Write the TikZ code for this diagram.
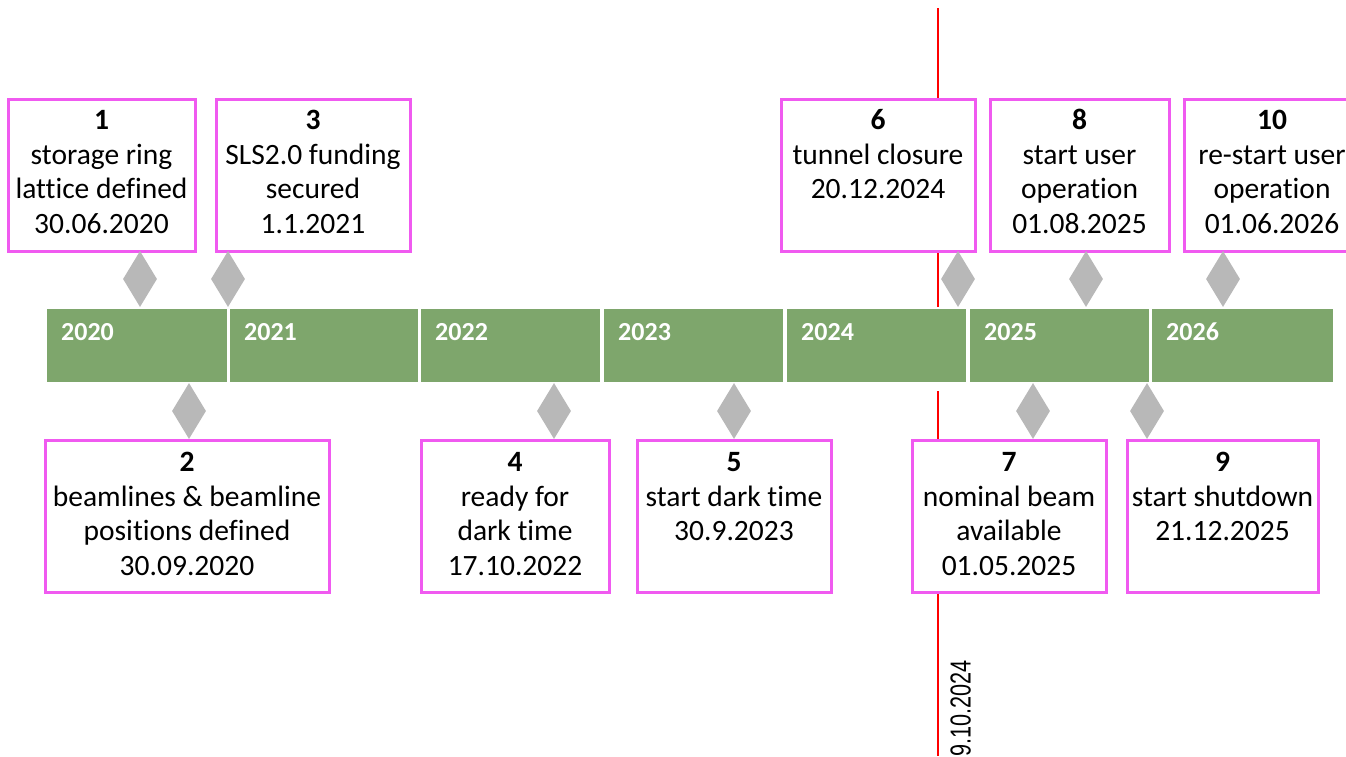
\documentclass[tikz,border=0pt]{standalone}
\usepackage{fontspec}
\setmainfont{Carlito}[Ligatures=NoCommon]
\newfontfamily\datefont{Liberation Sans}
\usetikzlibrary{shapes.geometric}

\definecolor{bargreen}{HTML}{7EA66C}
\definecolor{boxpink}{HTML}{F05AF0}
\definecolor{gemgray}{HTML}{B8B8B8}

\begin{document}
\begin{tikzpicture}[x=1pt,y=-1pt,
  yearseg/.style={fill=bargreen, draw=none, minimum height=73pt, inner sep=0pt, anchor=north west},
  yearlabel/.style={text=white, inner sep=0pt, anchor=base west,
    font={\fontsize{26}{30}\selectfont\bfseries}},
  milestone/.style={draw=boxpink, line width=3pt, fill=white, inner sep=0pt, minimum height=152pt},
  mtext/.style={inner sep=0pt, anchor=north, align=center,
    font={\fontsize{29.5}{34.5}\selectfont}},
  gem/.style={diamond, fill=gemgray, draw=none, inner sep=0pt,
    minimum width=34pt, minimum height=56pt},
  todayline/.style={draw=red, line width=2.2pt}
]
\useasboundingbox (0,0) rectangle (1346,756);

% red marker line, behind everything else
\coordinate (r1) at (938,8);
\coordinate (r2) at (938,307);
\coordinate (r3) at (938,391);
\coordinate (r4) at (938,756);
\draw[todayline] (r1) -- (r2);
\draw[todayline] (r3) -- (r4);
\node[inner sep=0pt, anchor=base east, rotate=90] (today) at (970.5,660)
  {\datefont\fontsize{28.9}{32}\selectfont\scalebox{0.75}[1]{9.10.2024}};

% year bar
\node[yearseg, minimum width=180pt] (y2020) at (47,309) {};
\node[yearseg, minimum width=188pt] (y2021) at (230,309) {};
\node[yearseg, minimum width=179pt] (y2022) at (421,309) {};
\node[yearseg, minimum width=179pt] (y2023) at (604,309) {};
\node[yearseg, minimum width=179pt] (y2024) at (787,309) {};
\node[yearseg, minimum width=179pt] (y2025) at (970,309) {};
\node[yearseg, minimum width=181pt] (y2026) at (1152,309) {};
\node[yearlabel] (l2020) at (61,340) {2020};
\node[yearlabel] (l2021) at (244,340) {2021};
\node[yearlabel] (l2022) at (435,340) {2022};
\node[yearlabel] (l2023) at (618,340) {2023};
\node[yearlabel] (l2024) at (801,340) {2024};
\node[yearlabel] (l2025) at (984,340) {2025};
\node[yearlabel] (l2026) at (1166,340) {2026};

% milestone boxes above the bar
\node[milestone, minimum width=187pt] (m1) at (101.5,175) {};
\node[milestone, minimum width=194pt] (m3) at (313,175) {};
\node[milestone, minimum width=194pt] (m6) at (878,175) {};
\node[milestone, minimum width=179pt] (m8) at (1079.5,175) {};
\node[milestone, minimum width=176pt] (m10) at (1272,175) {};

% milestone boxes below the bar
\node[milestone, minimum width=284pt] (m2) at (187,516) {};
\node[milestone, minimum width=188pt] (m4) at (515,516) {};
\node[milestone, minimum width=194pt] (m5) at (734,516) {};
\node[milestone, minimum width=194pt] (m7) at (1009,516) {};
\node[milestone, minimum width=191pt] (m9) at (1222.5,516) {};

% milestone texts
\node[mtext] (t1) at (101.5,105.5) {\strut\textbf{1}\\storage ring\\lattice defined\\30.06.2020};
\node[mtext] (t3) at (313,105.5) {\strut\textbf{3}\\SLS2.0 funding\\secured\\1.1.2021};
\node[mtext] (t6) at (878,105.5) {\strut\textbf{6}\\tunnel closure\\20.12.2024};
\node[mtext] (t8) at (1079.5,105.5) {\strut\textbf{8}\\start user\\operation\\01.08.2025};
\node[mtext] (t10) at (1272,105.5) {\strut\textbf{10}\\re-start user\\operation\\01.06.2026};
\node[mtext] (t2) at (187,447.5) {\strut\textbf{2}\\beamlines \& beamline\\positions defined\\30.09.2020};
\node[mtext] (t4) at (515,447.5) {\strut\textbf{4}\\ready for\\dark time\\17.10.2022};
\node[mtext] (t5) at (734,447.5) {\strut\textbf{5}\\start dark time\\30.9.2023};
\node[mtext] (t7) at (1009,447.5) {\strut\textbf{7}\\nominal beam\\available\\01.05.2025};
\node[mtext] (t9) at (1222.5,447.5) {\strut\textbf{9}\\start shutdown\\21.12.2025};

% date markers on the bar
\node[gem] (g1) at (140,279) {};
\node[gem] (g3) at (228,279) {};
\node[gem] (g6) at (958,279) {};
\node[gem] (g8) at (1086,279) {};
\node[gem] (g10) at (1223,279) {};
\node[gem] (g2) at (189,411) {};
\node[gem] (g4) at (554,411) {};
\node[gem] (g5) at (734,411) {};
\node[gem] (g7) at (1033,411) {};
\node[gem] (g9) at (1147,411) {};
\end{tikzpicture}
\end{document}
